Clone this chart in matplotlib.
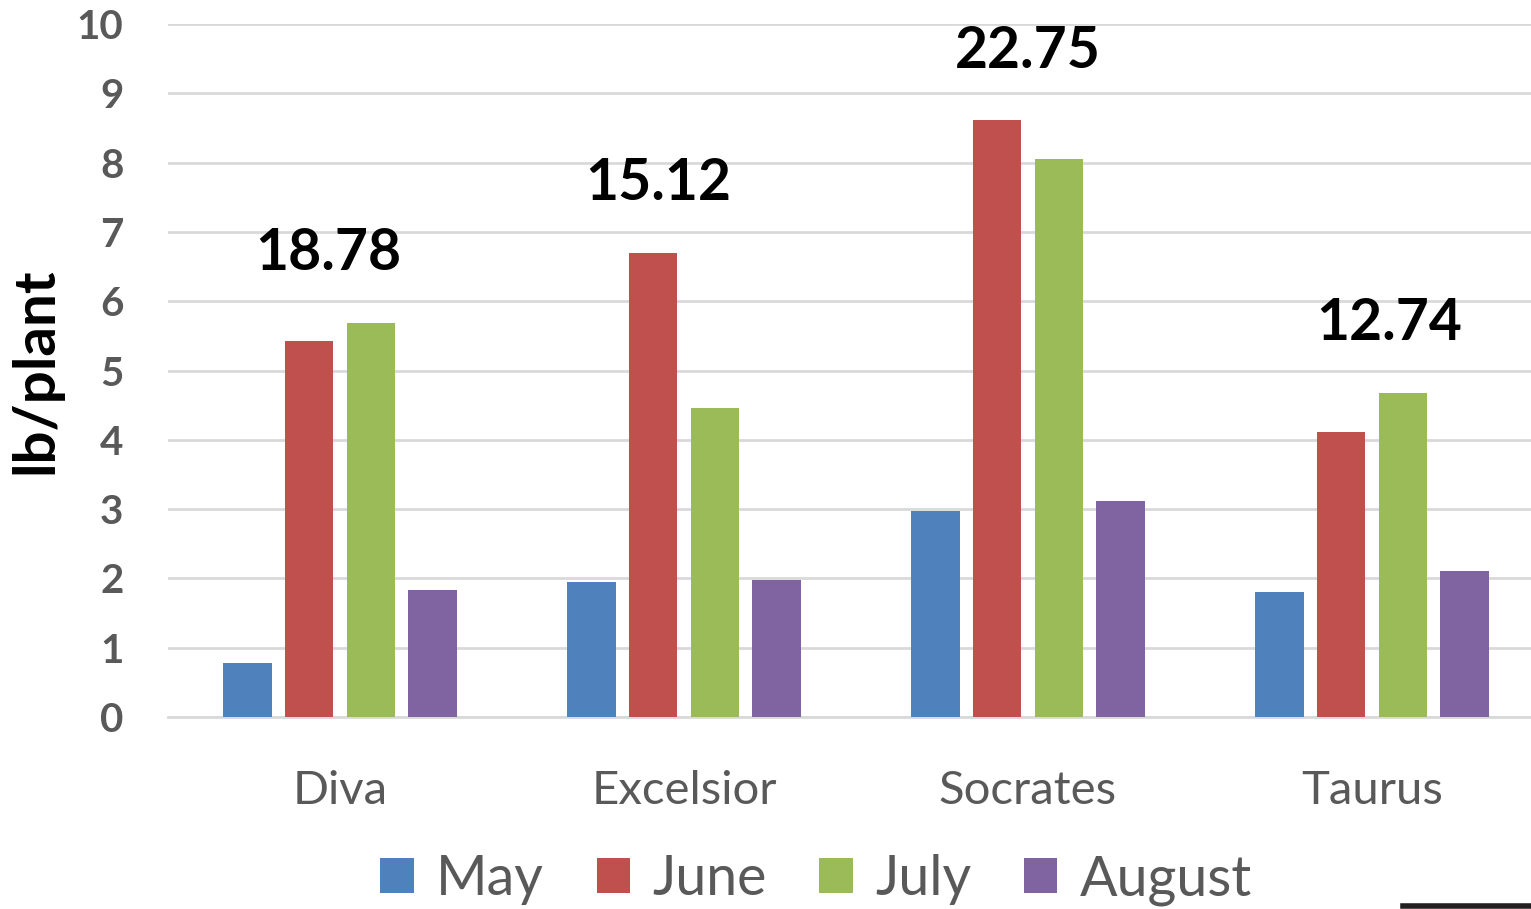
import numpy as np
import matplotlib
matplotlib.use("Agg")
import matplotlib.pyplot as plt
from matplotlib.lines import Line2D

plt.rcParams['font.family'] = ['Lato', 'DejaVu Sans']

varieties = ["Diva", "Excelsior", "Socrates", "Taurus"]
months = ["May", "June", "July", "August"]
may = [0.78, 1.95, 2.97, 1.80]
june = [5.43, 6.70, 8.61, 4.11]
july = [5.69, 4.46, 8.05, 4.68]
august = [1.83, 1.98, 3.12, 2.11]
totals = ["18.78", "15.12", "22.75", "12.74"]

colors = ["#4f81bd", "#c0504d", "#9bbb59", "#8064a2"]
gray = "#595959"

fig = plt.figure(figsize=(15.31, 9.09), dpi=100)
ax = fig.add_axes([168 / 1531, 1 - 717 / 909, 4 * 344 / 1531, 693 / 909])

x = np.arange(len(varieties))
step = 0.18
width = 0.142
series = [may, june, july, august]
for i, (vals, name, c) in enumerate(zip(series, months, colors)):
    ax.bar(x + (i - 1.5) * step, vals, width, color=c, label=name, zorder=3)

tops = np.max(np.array(series), axis=0)
label_dx = [-0.035, -0.075, 0.0, 0.05]
for xi, t, lab, dx in zip(x, tops, totals, label_dx):
    ax.text(xi + dx, t + 1.0, lab, ha="center", va="center",
            fontsize=41, fontweight="bold", color="black", zorder=4)

ax.set_xlim(-0.5, 3.5)
ax.set_ylim(0, 10)
ax.set_yticks(range(0, 11))
ax.set_xticks(x)
ax.set_xticklabels(varieties, fontsize=34, color=gray)
ax.tick_params(axis="x", length=0, pad=38)
ax.tick_params(axis="y", length=0, pad=32, labelsize=29, labelcolor=gray)
for lbl in ax.get_yticklabels():
    lbl.set_fontweight("bold")

ax.grid(axis="y", color="#d9d9d9", linewidth=2, zorder=0)
for s in ["top", "right", "left"]:
    ax.spines[s].set_visible(False)
ax.spines["bottom"].set_color("#d9d9d9")
ax.spines["bottom"].set_linewidth(2)

ax.set_ylabel("lb/plant", fontsize=42, fontweight="bold", color="black")
ax.yaxis.set_label_coords(-0.077, 0.5)

fig.legend(loc="center", bbox_to_anchor=(816 / 1531, 1 - 880 / 909), ncol=4,
           frameon=False, fontsize=40, labelcolor=gray, handlelength=0.6,
           handleheight=0.6, handletextpad=0.4, columnspacing=0.95)

fig.add_artist(Line2D([1403 / 1531, 1.0], [3 / 909, 3 / 909],
                      color="#231f20", linewidth=4))

fig.savefig("out.png", dpi=100)
